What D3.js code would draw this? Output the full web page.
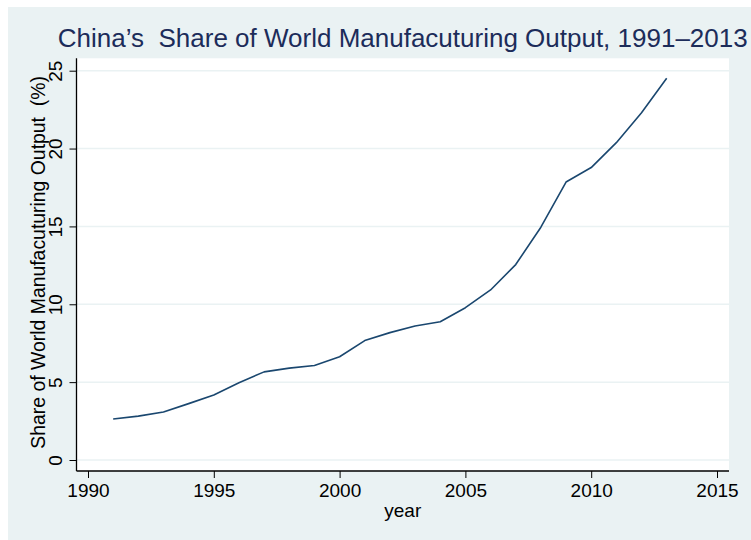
<!DOCTYPE html>
<html>
<head>
<meta charset="utf-8">
<script src="https://cdn.jsdelivr.net/npm/d3@7"></script>
<style>
  html, body { margin: 0; padding: 0; background: #ffffff; }
  svg text { font-family: "Liberation Sans", Arial, Helvetica, sans-serif; white-space: pre; }
</style>
</head>
<body>
<svg id="chart" width="751" height="540"></svg>
<script>
const years = [1991,1992,1993,1994,1995,1996,1997,1998,1999,2000,2001,2002,2003,2004,2005,2006,2007,2008,2009,2010,2011,2012,2013];
const share = [2.63,2.82,3.08,3.62,4.18,4.96,5.66,5.9,6.07,6.63,7.67,8.18,8.61,8.88,9.78,10.92,12.55,14.95,17.85,18.78,20.38,22.3,24.52];
const xTicks = [1990,1995,2000,2005,2010,2015];
const yTicks = [0,5,10,15,20,25];
const titleText = "China\u2019s  Share of World Manufacuturing Output, 1991\u20132013";
const xTitle = "year";
const yTitle = "Share of World Manufacuturing Output  (%)";

const W = 751, H = 540;
const plot = {left: 76.5, right: 729, top: 58.3, bottom: 471};
const bgColor = "#eaf2f3";

const svg = d3.select("#chart");

// graph region background
svg.append("rect").attr("x", 8).attr("y", 7).attr("width", W - 8).attr("height", H - 7).attr("fill", bgColor);
// plot region
svg.append("rect").attr("x", plot.left).attr("y", plot.top)
  .attr("width", plot.right - plot.left).attr("height", plot.bottom - plot.top).attr("fill", "#ffffff");

const x = d3.scaleLinear().domain([1990, 2015]).range([88, 717]);
const y = d3.scaleLinear().domain([0, 25]).range([460, 70.7]);

// grid lines
svg.append("g").selectAll("line").data(yTicks).join("line")
  .attr("x1", plot.left).attr("x2", plot.right)
  .attr("y1", d => y(d)).attr("y2", d => y(d))
  .attr("stroke", bgColor).attr("stroke-width", 1.5);

// data line
svg.append("path")
  .datum(years.map((yr, i) => [yr, share[i]]))
  .attr("fill", "none").attr("stroke", "#1a476f").attr("stroke-width", 1.6)
  .attr("stroke-linejoin", "round")
  .attr("d", d3.line().x(d => x(d[0])).y(d => y(d[1])));

// x axis
const xAxis = d3.axisBottom(x).tickValues(xTicks).tickFormat(d3.format("d")).tickSize(7).tickSizeOuter(0).tickPadding(4);
const gx = svg.append("g").attr("transform", `translate(0,${plot.bottom})`).call(xAxis);
gx.select(".domain").attr("d", `M${plot.left},0H${plot.right}`).attr("stroke", "#000").attr("stroke-width", 1.3);
gx.selectAll(".tick line").attr("stroke", "#000").attr("stroke-width", 1);
gx.selectAll(".tick text").attr("font-size", 19).attr("fill", "#000").attr("dy", null).attr("y", 26)
  .style("font-family", '"Liberation Sans", Arial, sans-serif');

// y axis
const yAxis = d3.axisLeft(y).tickValues(yTicks).tickSize(7).tickSizeOuter(0);
const gy = svg.append("g").attr("transform", `translate(${plot.left},0)`).call(yAxis);
gy.select(".domain").attr("d", `M0,${plot.top}V${plot.bottom}`).attr("stroke", "#000").attr("stroke-width", 1.3);
gy.selectAll(".tick line").attr("stroke", "#000").attr("stroke-width", 1);
gy.selectAll(".tick text").attr("font-size", 19).attr("fill", "#000")
  .attr("x", null).attr("dy", null)
  .attr("text-anchor", "middle")
  .attr("transform", "translate(-15,0) rotate(-90)")
  .style("font-family", '"Liberation Sans", Arial, sans-serif');

// title
svg.append("text").attr("x", (plot.left + plot.right) / 2).attr("y", 47)
  .attr("text-anchor", "middle").attr("font-size", 26).attr("fill", "#1c2c5a")
  .text(titleText);

// x title
svg.append("text").attr("x", (plot.left + plot.right) / 2).attr("y", 517)
  .attr("text-anchor", "middle").attr("font-size", 19).attr("fill", "#000")
  .text(xTitle);

// y title
svg.append("text")
  .attr("transform", `translate(45,${(y(0) + y(25)) / 2 - 3}) rotate(-90)`)
  .attr("text-anchor", "middle").attr("font-size", 19.4).attr("fill", "#000")
  .text(yTitle);
</script>
</body>
</html>
